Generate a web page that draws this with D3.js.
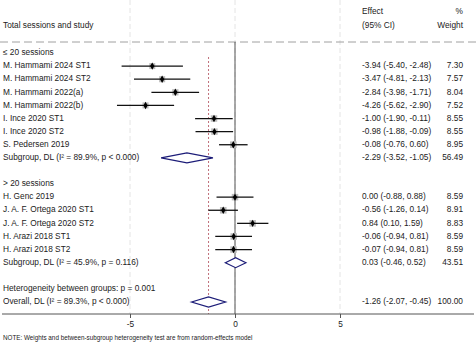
<!DOCTYPE html>
<html>
<head>
<meta charset="utf-8">
<script src="https://cdn.jsdelivr.net/npm/d3@7"></script>
<style>
  html, body { margin: 0; padding: 0; background: #fff; }
  svg { display: block; font-family: "Liberation Sans", Arial, Helvetica, sans-serif; }
</style>
</head>
<body>
<svg width="476" height="347"></svg>
<script>
// study-level estimates
const studies = [
  'M. Hammami 2024 ST1', 'M. Hammami 2024 ST2', 'M. Hammami 2022(a)', 'M. Hammami 2022(b)',
  'I. Ince 2020 ST1', 'I. Ince 2020 ST2', 'S. Pedersen 2019',
  'H. Genc 2019', 'J. A. F. Ortega 2020 ST1', 'J. A. F. Ortega 2020 ST2',
  'H. Arazi 2018 ST1', 'H. Arazi 2018 ST2'
];
const effects = [-3.94, -3.47, -2.84, -4.26, -1.00, -0.98, -0.08, 0.00, -0.56, 0.84, -0.06, -0.07];
const lower   = [-5.40, -4.81, -3.98, -5.62, -1.90, -1.88, -0.76, -0.88, -1.26, 0.10, -0.94, -0.94];
const upper   = [-2.48, -2.13, -1.71, -2.90, -0.11, -0.09, 0.60, 0.88, 0.14, 1.59, 0.81, 0.81];
const weights = [7.30, 7.57, 8.04, 7.52, 8.55, 8.55, 8.95, 8.59, 8.91, 8.83, 8.59, 8.59];
const groupOf = [0, 0, 0, 0, 0, 0, 0, 1, 1, 1, 1, 1];

// subgroup pooled estimates
const groupNames = ['\u2264 20 sessions', '> 20 sessions'];
const groupLabels = ['Subgroup, DL (I\u00B2 = 89.9%, p < 0.000)', 'Subgroup, DL (I\u00B2 = 45.9%, p = 0.116)'];
const groupEffect = [-2.29, 0.03];
const groupLower  = [-3.52, -0.46];
const groupUpper  = [-1.05, 0.52];
const groupWeight = [56.49, 43.51];

// overall
const overall = { label: 'Overall, DL (I\u00B2 = 89.3%, p < 0.000)', effect: -1.26, lower: -2.07, upper: -0.45, weight: 100.00 };
const hetLabel = 'Heterogeneity between groups: p = 0.001';
const xTicks = [-5, 0, 5];

// plain hyphen instead of d3's unicode minus
const fmt = v => d3.format('.2f')(v).replace('\u2212', '-');
const fmtInt = v => d3.format('d')(v).replace('\u2212', '-');
const ciText = (e, l, u) => `${fmt(e)} (${fmt(l)}, ${fmt(u)})`;

// build the row list
let rows = [];
groupNames.forEach((g, gi) => {
  rows.push({ type: 'head', label: g });
  studies.forEach((s, i) => {
    if (groupOf[i] === gi) rows.push({ type: 'study', label: s, e: effects[i], l: lower[i], u: upper[i], w: weights[i] });
  });
  rows.push({ type: 'pool', label: groupLabels[gi], e: groupEffect[gi], l: groupLower[gi], u: groupUpper[gi], w: groupWeight[gi] });
  rows.push({ type: 'blank' });
});
rows.push({ type: 'text', label: hetLabel });
rows.push({ type: 'pool', label: overall.label, e: overall.effect, l: overall.lower, u: overall.upper, w: overall.weight });

const svg = d3.select('svg');
const fs = 8.3;
const axisY = 314;

let x = d3.scaleLinear().domain([-5, 5]).range([130, 340]);
let y = d3.scaleLinear().domain([0, rows.length - 1]).range([53, 302]);

// faint gridlines
svg.append('g')
  .selectAll('line')
  .data(xTicks)
  .enter()
  .append('line')
  .attr('x1', d => x(d)).attr('x2', d => x(d))
  .attr('y1', 0).attr('y2', axisY)
  .attr('stroke', '#e4e4e4')
  .attr('stroke-dasharray', '5,3');

// header separator
svg.append('line')
  .attr('x1', 0).attr('x2', 476)
  .attr('y1', 42).attr('y2', 42)
  .attr('stroke', '#a0a0a0')
  .attr('stroke-dasharray', '8,4');

// no-effect line
svg.append('line')
  .attr('x1', x(0)).attr('x2', x(0))
  .attr('y1', 42).attr('y2', axisY)
  .attr('stroke', '#555')
  .attr('stroke-width', 1);

// overall effect line
svg.append('line')
  .attr('x1', x(overall.effect)).attr('x2', x(overall.effect))
  .attr('y1', 57).attr('y2', axisY)
  .attr('stroke', '#c0707a')
  .attr('stroke-width', 1)
  .attr('stroke-dasharray', '2,2');

// axis
svg.append('line')
  .attr('x1', 2).attr('x2', 474)
  .attr('y1', axisY).attr('y2', axisY)
  .attr('stroke', '#555');
let xAxis = d3.axisBottom(x).tickValues(xTicks).tickSize(4).tickSizeOuter(0).tickFormat(fmtInt);
let ag = svg.append('g').attr('transform', `translate(0, ${axisY})`).call(xAxis);
ag.select('.domain').remove();
ag.selectAll('line').attr('stroke', '#555');
ag.selectAll('text').attr('font-size', fs).attr('font-family', null).attr('fill', '#222').attr('dy', '0.75em');

// headers
const head = svg.append('g').attr('font-size', fs).attr('fill', '#222');
head.append('text').attr('x', 3).attr('y', 26).attr('dominant-baseline', 'middle').text('Total sessions and study');
head.append('text').attr('x', 362).attr('y', 12).attr('dominant-baseline', 'middle').text('Effect');
head.append('text').attr('x', 362).attr('y', 26).attr('dominant-baseline', 'middle').text('(95% CI)');
head.append('text').attr('x', 463).attr('y', 12).attr('text-anchor', 'end').attr('dominant-baseline', 'middle').text('%');
head.append('text').attr('x', 463).attr('y', 26).attr('text-anchor', 'end').attr('dominant-baseline', 'middle').text('Weight');

// row labels and numbers
let rg = svg.append('g').attr('font-size', fs).attr('fill', '#222');
rows.forEach((r, i) => {
  if (r.type === 'blank') return;
  rg.append('text').attr('x', 3).attr('y', y(i)).attr('dominant-baseline', 'middle').text(r.label);
  if (r.type === 'study' || r.type === 'pool') {
    rg.append('text').attr('x', 362).attr('y', y(i)).attr('dominant-baseline', 'middle').text(ciText(r.e, r.l, r.u));
    rg.append('text').attr('x', 463).attr('y', y(i)).attr('text-anchor', 'end').attr('dominant-baseline', 'middle').text(fmt(r.w));
  }
});

// study markers
let studyRows = rows.map((r, i) => Object.assign({ i }, r)).filter(r => r.type === 'study');
let poolRows = rows.map((r, i) => Object.assign({ i }, r)).filter(r => r.type === 'pool');
let box = d3.scaleSqrt().domain([0, 10]).range([0, 7]);

svg.append('g').selectAll('rect')
  .data(studyRows).enter().append('rect')
  .attr('x', d => x(d.e) - box(d.w) / 2)
  .attr('y', d => y(d.i) - box(d.w) / 2)
  .attr('width', d => box(d.w))
  .attr('height', d => box(d.w))
  .attr('fill', '#bdbdbd');

svg.append('g').selectAll('line')
  .data(studyRows).enter().append('line')
  .attr('x1', d => x(d.l)).attr('x2', d => x(d.u))
  .attr('y1', d => y(d.i)).attr('y2', d => y(d.i))
  .attr('stroke', '#111')
  .attr('stroke-width', 1.3);

svg.append('g').selectAll('path')
  .data(studyRows).enter().append('path')
  .attr('d', d3.symbol(d3.symbolDiamond, 16))
  .attr('transform', d => `translate(${x(d.e)}, ${y(d.i)})`)
  .attr('fill', '#000');

// pooled diamonds
svg.append('g').selectAll('path')
  .data(poolRows).enter().append('path')
  .attr('d', d => {
    let cy = y(d.i);
    return `M${x(d.l)},${cy}L${x(d.e)},${cy - 5}L${x(d.u)},${cy}L${x(d.e)},${cy + 5}Z`;
  })
  .attr('fill', '#fff')
  .attr('stroke', '#1c1c78')
  .attr('stroke-width', 1.2);

// footnote
svg.append('text')
  .attr('x', 3).attr('y', 338)
  .attr('font-size', 6.3)
  .attr('fill', '#222')
  .attr('dominant-baseline', 'middle')
  .text('NOTE: Weights and between-subgroup heterogeneity test are from random-effects model');
</script>
</body>
</html>
